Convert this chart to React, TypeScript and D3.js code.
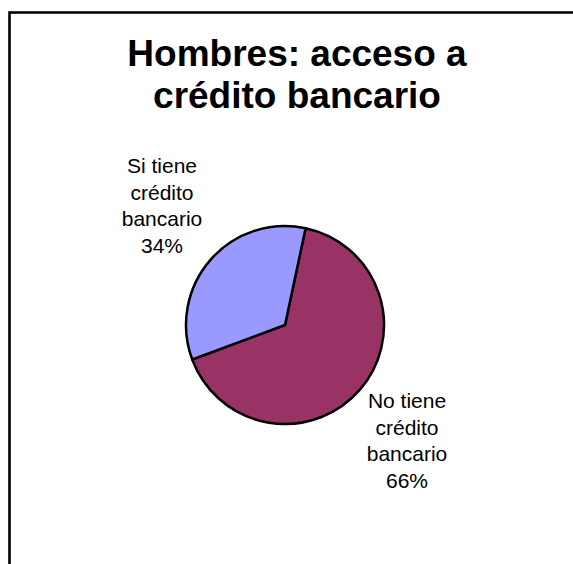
import React from "react";
import * as d3 from "d3";

const titleLines = ["Hombres: acceso a", "crédito bancario"];
const categories = ["No tiene crédito bancario", "Si tiene crédito bancario"];
const values = [66, 34];
const labelLines = [
  ["No tiene", "crédito", "bancario", "66%"],
  ["Si tiene", "crédito", "bancario", "34%"],
];
const colors = ["#993366", "#9999FF"];

const W = 573;
const H = 564;
const cx = 285;
const cy = 325;
const R = 99;
const startDeg = 12;

export default function App() {
  const pie = d3
    .pie<number>()
    .sort(null)
    .value((d) => d)
    .startAngle((startDeg * Math.PI) / 180)
    .endAngle((startDeg * Math.PI) / 180 + 2 * Math.PI);
  const arcs = pie(values);
  const arc = d3.arc<d3.PieArcDatum<number>>().innerRadius(0).outerRadius(R);
  const labelPos = [
    { x: 407, y: 408 },
    { x: 162, y: 173 },
  ];
  const font = "'Liberation Sans', Arial, sans-serif";
  return (
    <svg
      width={W}
      height={H}
      style={{ position: "absolute", left: 0, top: 0, background: "#fff" }}
    >
      <rect x={9.5} y={12.5} width={W} height={H} fill="#fff" stroke="#000" strokeWidth={2.6} />
      <text fontFamily={font} fontWeight="bold" fontSize={37} textAnchor="middle" fill="#000">
        {titleLines.map((t, i) => (
          <tspan key={i} x={297} y={66 + i * 41.5}>
            {t}
          </tspan>
        ))}
      </text>
      <g transform={`translate(${cx},${cy})`}>
        {arcs.map((a, i) => (
          <path key={categories[i]} d={arc(a) || ""} fill={colors[i]} stroke="#000" strokeWidth={2.5} strokeLinejoin="round" />
        ))}
      </g>
      {labelLines.map((lines, i) => (
        <text key={i} fontFamily={font} fontSize={21} textAnchor="middle" fill="#000">
          {lines.map((l, j) => (
            <tspan key={j} x={labelPos[i].x} y={labelPos[i].y + j * 26.6}>
              {l}
            </tspan>
          ))}
        </text>
      ))}
    </svg>
  );
}
